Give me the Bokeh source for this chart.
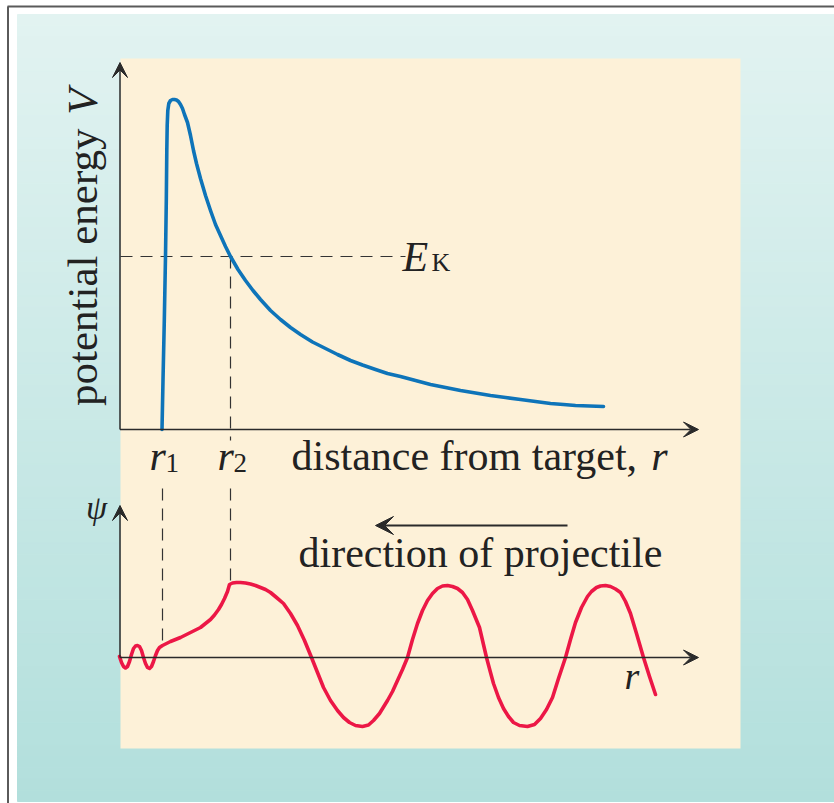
import math
from bokeh.plotting import figure
from bokeh.models import Range1d, Arrow, VeeHead
from bokeh.core.properties import value
from bokeh.embed import file_html
from bokeh.resources import INLINE

# ---------------- data ----------------
# potential energy V(r) (arbitrary units)
r_pot = [4.15, 4.25, 4.38, 4.50, 4.58, 4.63, 4.67, 4.73, 4.83, 5.0,
         5.2, 5.4, 5.6, 5.8, 6.0, 6.2, 6.4, 6.7, 7.0, 7.3,
         7.6, 8.0, 8.5, 9.0, 9.5, 10.0, 10.5, 11.0, 11.75, 12.5,
         13.25, 14.0, 15.0, 16.0, 17.0, 18.0, 19.2, 20.5, 21.7, 23.0,
         24.2, 25.5, 26.7, 28.0, 29.5, 31.0, 32.5, 34.0, 35.5, 37.0,
         38.5, 40.0, 41.5, 43.0, 44.3, 45.5, 48.3]
V_pot = [0.0, 4.9, 10.9, 17.3, 22.9, 27.9, 30.4, 31.9, 32.6, 32.9,
         33.0, 33.0, 32.95, 32.8, 32.5, 32.1, 31.5, 30.7, 29.4, 27.9,
         26.6, 25.1, 23.4, 21.9, 20.5, 19.4, 18.3, 17.3, 16.0, 14.9,
         13.9, 13.0, 11.9, 11.0, 10.2, 9.5, 8.75, 8.1, 7.5, 6.9,
         6.45, 6.0, 5.6, 5.3, 4.9, 4.5, 4.2, 3.9, 3.65, 3.4,
         3.2, 3.0, 2.8, 2.6, 2.5, 2.4, 2.3]

# wavefunction psi(r)
r_psi = [-0.1, 0.1, 0.3, 0.5, 0.7, 0.9, 1.1, 1.3, 1.5, 1.7,
         1.9, 2.1, 2.3, 2.5, 2.7, 2.9, 3.1, 3.3, 3.5, 3.7,
         3.9, 4.2, 4.6, 5.0, 5.5, 6.0, 6.5, 7.0, 7.5, 8.0,
         8.5, 9.0, 9.4, 9.8, 10.1, 10.4, 10.7, 10.9, 11.2, 11.6,
         12.0, 12.5, 13.0, 13.5, 14.0, 14.5, 15.0, 15.6, 16.3, 17.0,
         17.7, 18.4, 19.1, 19.7, 20.3, 21.0, 21.7, 22.3, 22.9, 23.5,
         24.2, 24.8, 25.3, 25.9, 26.7, 27.2, 27.7, 28.2, 28.7, 29.2,
         29.7, 30.2, 30.7, 31.2, 31.7, 32.2, 32.7, 33.2, 33.7, 34.2,
         34.7, 35.2, 35.9, 36.6, 37.0, 37.3, 37.8, 38.3, 38.8, 39.3,
         39.9, 40.7, 41.4, 42.0, 42.6, 43.2, 43.8, 44.5, 45.0, 45.5,
         46.1, 46.7, 47.1, 47.6, 48.0, 48.5, 49.0, 49.5, 50.0, 50.5,
         51.0, 51.6, 52.3, 52.9, 53.5]
psi = [0.1, -0.5, -0.9, -1.05, -0.9, -0.4, 0.3, 0.9, 1.15, 1.2,
       1.1, 0.7, 0.0, -0.6, -1.0, -1.1, -0.9, -0.4, 0.2, 0.7,
       1.0, 1.2, 1.4, 1.6, 1.8, 2.0, 2.25, 2.5, 2.75, 3.0,
       3.4, 3.8, 4.25, 4.8, 5.3, 5.9, 6.6, 7.3, 7.45, 7.5,
       7.5, 7.45, 7.35, 7.2, 7.0, 6.8, 6.5, 6.0, 5.4, 4.4,
       3.2, 1.7, 0.0, -1.5, -3.0, -4.3, -5.3, -6.0, -6.5, -6.8,
       -6.9, -6.75, -6.3, -5.6, -4.3, -3.4, -2.3, -1.2, 0.0, 1.8,
       3.4, 4.7, 5.7, 6.4, 6.9, 7.15, 7.2, 7.1, 6.9, 6.5,
       5.8, 4.7, 3.0, 0.0, -1.5, -2.6, -4.0, -5.1, -5.9, -6.5,
       -6.8, -6.9, -6.7, -6.1, -5.2, -4.0, -2.1, 0.0, 1.8, 3.5,
       5.0, 6.1, 6.6, 7.0, 7.15, 7.2, 7.1, 6.85, 6.5, 5.6,
       4.4, 2.4, 0.0, -1.9, -3.7]

E_K = 17.3            # kinetic energy level
r_turn = [4.2, 11.0]  # r1, r2
psi_turn = [1.2, 7.3]  # psi at r1, r2
turn_labels = ["r", "r"]
turn_subs = ["1", "2"]

# ---------------- layout helpers (pixel -> data) ----------------
W, H = 834, 803
def X(px): return (px - 120) / 10.0
def Y(py): return (429 - py) / 10.0
def P(py): return (657 - py) / 10.0

p = figure(width=W, height=H, x_range=Range1d(X(0), X(W)), y_range=Range1d(Y(H), Y(0)),
           output_backend="svg", toolbar_location=None, min_border=0,
           x_axis_location=None, y_axis_location=None)
p.extra_y_ranges = {"psi": Range1d(P(H), P(0))}
p.grid.visible = False
p.outline_line_color = None
p.background_fill_color = "white"
p.border_fill_color = "white"

# gradient background
N = 70
top_c = (226, 243, 241)
bot_c = (178, 223, 220)
g_top, g_bot = 14, 801
edges = [g_top + (g_bot - g_top) * i / N for i in range(N + 1)]
cols = []
for i in range(N):
    t = (i + 0.5) / N
    c = tuple(int(round(a + (b - a) * t)) for a, b in zip(top_c, bot_c))
    cols.append("#%02x%02x%02x" % c)
p.quad(left=X(17), right=X(834), top=[Y(e) for e in edges[:-1]],
       bottom=[Y(e) for e in edges[1:]], fill_color=cols, line_color=cols, line_width=1)

# frame border
p.segment(x0=[X(7), X(7.5)], y0=[Y(6), Y(6)], x1=[X(834), X(7.5)], y1=[Y(6), Y(803)],
          line_color="#5a5a5a", line_width=2)

# cream panel
p.quad(left=X(120), right=X(740), top=Y(58), bottom=Y(748), fill_color="#fdf1d8", line_color=None)

DASH = "12 8"
DC = "#333333"
# E_K level and r2 drop
p.line(x=[0, X(405)], y=[E_K, E_K], line_dash=DASH, line_color=DC, line_width=1.2)
p.line(x=[r_turn[1], r_turn[1]], y=[E_K, Y(440)], line_dash=DASH, line_color=DC, line_width=1.2)
# drops into lower panel
for rt, pv in zip(r_turn, psi_turn):
    p.line(x=[rt, rt], y=[P(488), pv], y_range_name="psi", line_dash=DASH, line_color=DC, line_width=1.2)

# curves
p.line(x=r_pot, y=V_pot, line_color="#0e74b9", line_width=3.6, line_join="round", line_cap="round")
p.line(x=r_psi, y=psi, y_range_name="psi", line_color="#ec1746", line_width=3.6,
       line_join="round", line_cap="round")

# axes as arrows
AC = "#2a2a2a"
def head(sz=15):
    return VeeHead(size=sz, fill_color=AC, line_color=AC, line_width=1)
p.add_layout(Arrow(end=head(), x_start=X(119.5), y_start=Y(429), x_end=X(698), y_end=Y(429),
                   line_color=AC, line_width=1.5))
p.add_layout(Arrow(end=head(), x_start=X(119.5), y_start=Y(429), x_end=X(119.5), y_end=Y(62),
                   line_color=AC, line_width=1.5))
p.add_layout(Arrow(end=head(), x_start=X(119.5), y_start=P(657), x_end=X(698), y_end=P(657),
                   line_color=AC, line_width=1.5, y_range_name="psi"))
p.add_layout(Arrow(end=head(), x_start=X(119.5), y_start=P(657), x_end=X(119.5), y_end=P(505),
                   line_color=AC, line_width=1.5, y_range_name="psi"))
# direction of projectile arrow
p.add_layout(Arrow(end=head(18), x_start=X(567), y_start=P(525), x_end=X(375), y_end=P(525),
                   line_color=AC, line_width=2.2, y_range_name="psi"))

# texts
SER = value("Liberation Serif")
TC = "#222222"
def txt(x, y, s, size, style="normal", align="left", angle=0.0, yr="default"):
    p.text(x=[x], y=[y], text=[s], text_font=SER, text_font_size=value("%dpx" % size),
           text_font_style=style, text_align=align, text_baseline="alphabetic",
           angle=angle, text_color=TC, y_range_name=yr)

txt(X(291), Y(455), "distance from target,", 42)
txt(X(667), Y(455), "r", 42, style="italic", align="right")
txt(X(82), Y(128), "potential energy", 43, angle=math.pi / 2, align="right")
txt(X(82), Y(88), "V", 43, style="italic", angle=math.pi / 2, align="right")
txt(X(402), Y(256), "E", 42, style="italic")
txt(X(431), Y(262), "K", 26)
for rt, lab, sub in zip(r_turn, turn_labels, turn_subs):
    txt(rt - 1.3, Y(455), lab, 42, style="italic")
    txt(rt + 0.3, Y(462), sub, 27)
txt(X(96), P(507), "\u03c8", 34, style="italic", align="center", yr="psi")
txt(X(298), P(552), "direction of projectile", 42, yr="psi")
txt(X(624), P(675), "r", 38, style="italic", yr="psi")

open("out.html", "w").write(file_html(p, INLINE))
